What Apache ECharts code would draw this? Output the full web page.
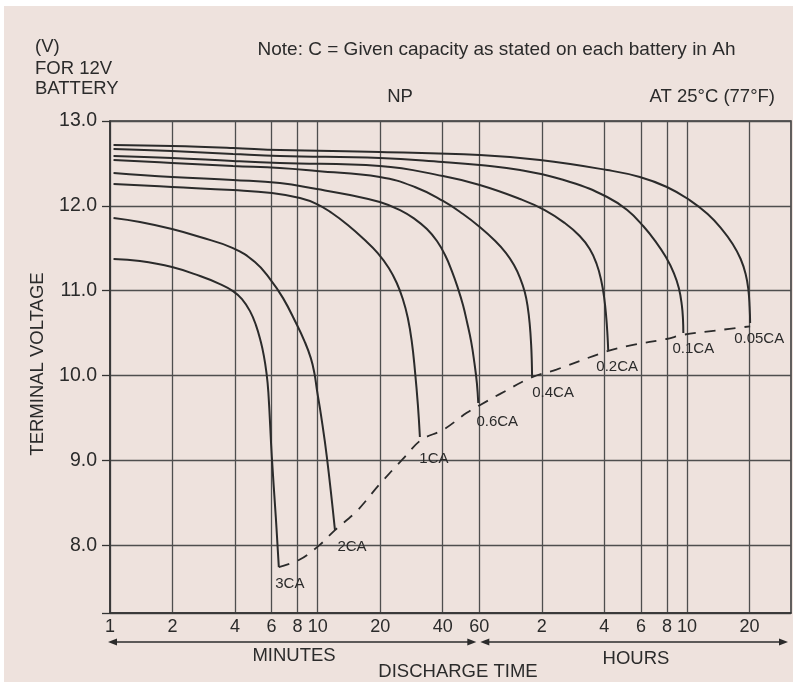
<!DOCTYPE html>
<html><head><meta charset="utf-8">
<script src="https://cdn.jsdelivr.net/npm/echarts@6/dist/echarts.min.js"></script>
<style>
html,body{margin:0;padding:0;background:#ffffff;}
#c{position:absolute;left:4px;top:6px;width:789px;height:676px;background:#eee2dd;}
</style></head><body><div id="c"></div>
<script>
// ---- axis ticks (x in minutes; values above 60 are hours * 60) ----
const xTickValues = [1, 2, 4, 6, 8, 10, 20, 40, 60, 120, 240, 360, 480, 600, 1200];
const yTickValues = [7.2, 8, 9, 10, 11, 12, 13];
const yLabelValues = [8, 9, 10, 11, 12, 13];

// ---- discharge curves: time (minutes) and terminal voltage (V) ----
const time3CA = [1.04, 1.394, 1.988, 2.713, 3.386, 3.908, 4.32, 4.721, 5.042, 5.326, 5.508, 5.661, 5.786, 6.014, 6.285, 6.499];
const volt3CA = [11.373, 11.349, 11.278, 11.172, 11.078, 10.995, 10.901, 10.759, 10.594, 10.394, 10.229, 10.04, 9.804, 9.038, 8.33, 7.741];

const time2CA = [1.04, 1.394, 1.988, 2.713, 3.908, 4.986, 5.898, 6.811, 7.864, 8.676, 9.266, 9.639, 9.917, 10.373, 11.07, 12.11];
const volt2CA = [11.856, 11.809, 11.726, 11.632, 11.502, 11.337, 11.137, 10.912, 10.618, 10.394, 10.205, 10.028, 9.828, 9.533, 9.038, 8.177];

const time1CA = [1.04, 1.988, 3.908, 6.014, 8.218, 9.917, 11.7, 13.96, 16.66, 19.46, 21.99, 24.02, 25.69, 27.16, 28.4, 29.37, 30.37, 31.05];
const volt1CA = [12.257, 12.222, 12.186, 12.151, 12.092, 12.021, 11.915, 11.774, 11.608, 11.443, 11.267, 11.09, 10.901, 10.677, 10.394, 10.064, 9.651, 9.274];

const time06CA = [1.04, 1.988, 3.908, 6.575, 9.917, 14.29, 19.91, 24.92, 29.37, 33.56, 37.51, 41.03, 44.26, 47.29, 50.06, 52.34, 54.86, 56.75, 58.4, 59.29];
const volt06CA = [12.387, 12.34, 12.304, 12.269, 12.198, 12.127, 12.045, 11.95, 11.844, 11.726, 11.585, 11.42, 11.231, 11.031, 10.83, 10.63, 10.394, 10.158, 9.91, 9.675];

const time04CA = [1.04, 1.988, 3.908, 6.575, 9.917, 19.91, 29.37, 40.1, 50.06, 60.3, 71.6, 80.7, 88.1, 94.3, 99.3, 102.6, 105.0, 106.6, 107.3, 107.7];
const volt04CA = [12.54, 12.505, 12.469, 12.446, 12.41, 12.34, 12.222, 12.057, 11.903, 11.75, 11.585, 11.443, 11.302, 11.149, 10.983, 10.807, 10.594, 10.358, 10.181, 9.981];

const time02CA = [1.04, 1.988, 3.908, 6.575, 19.91, 40.1, 60.3, 94.3, 123.9, 154.7, 182.6, 204.1, 220.3, 231.5, 239.6, 245.2, 248.4, 250.4];
const volt02CA = [12.587, 12.564, 12.528, 12.505, 12.469, 12.351, 12.245, 12.08, 11.95, 11.797, 11.644, 11.491, 11.314, 11.125, 10.913, 10.677, 10.476, 10.3];

const time01CA = [1.04, 1.988, 3.908, 6.575, 19.91, 40.1, 60.3, 94.3, 164.1, 247.5, 309.1, 369.0, 425.4, 474.6, 518.5, 547.9, 566.4, 574.0, 575.9];
const volt01CA = [12.67, 12.646, 12.611, 12.587, 12.564, 12.517, 12.481, 12.422, 12.281, 12.104, 11.95, 11.762, 11.573, 11.396, 11.208, 11.031, 10.83, 10.653, 10.5];

const time005CA = [1.04, 1.988, 3.908, 6.575, 19.91, 60.3, 117.6, 247.5, 355.6, 479.9, 617.7, 754.1, 881.9, 995.1, 1087.4, 1148.9, 1185, 1201, 1208];
const volt005CA = [12.717, 12.705, 12.682, 12.658, 12.634, 12.599, 12.54, 12.422, 12.34, 12.222, 12.068, 11.903, 11.726, 11.55, 11.373, 11.196, 11.007, 10.807, 10.618];

// ---- dashed final-voltage line ----
const timeCutoff = [6.499, 8.2, 10.2, 12.11, 15.4, 19.9, 25.8, 31.5, 40.2, 52.2, 60.3, 75.2, 107.7, 141, 250.4, 330, 477, 575.9, 829, 1208];
const voltCutoff = [7.741, 7.83, 8.0, 8.177, 8.4, 8.72, 9.02, 9.24, 9.36, 9.56, 9.65, 9.78, 9.98, 10.07, 10.29, 10.36, 10.43, 10.48, 10.53, 10.58];

const FONT = '"Liberation Sans", Arial, Helvetica, sans-serif';
const INK = '#2b2b2b';
const GRIDC = '#4e4e4e';

const curves = [
  {name: '3CA', t: time3CA, v: volt3CA, off: [11, 17]},
  {name: '2CA', t: time2CA, v: volt2CA, off: [17, 17]},
  {name: '1CA', t: time1CA, v: volt1CA, off: [14, 22]},
  {name: '0.6CA', t: time06CA, v: volt06CA, off: [19, 19]},
  {name: '0.4CA', t: time04CA, v: volt04CA, off: [21, 16]},
  {name: '0.2CA', t: time02CA, v: volt02CA, off: [9, 17]},
  {name: '0.1CA', t: time01CA, v: volt01CA, off: [10, 16]},
  {name: '0.05CA', t: time005CA, v: volt005CA, off: [9, 16]}
];

const series = curves.map(c => ({
  type: 'line', name: c.name,
  data: c.t.map((t, i) => [t, c.v[i]]),
  smooth: 0.45, showSymbol: false, symbol: 'none', silent: true, animation: false,
  lineStyle: {color: INK, width: 2},
  markPoint: {
    symbol: 'circle', symbolSize: 1, silent: true, animation: false,
    itemStyle: {color: 'rgba(0,0,0,0)'},
    label: {show: true, position: 'inside', offset: c.off, formatter: c.name,
            color: INK, fontSize: 15, fontFamily: FONT},
    data: [{coord: [c.t[c.t.length - 1], c.v[c.v.length - 1]]}]
  }
}));
series.push({
  type: 'line', name: 'cutoff',
  data: timeCutoff.map((t, i) => [t, voltCutoff[i]]),
  smooth: 0.35, showSymbol: false, symbol: 'none', silent: true, animation: false,
  lineStyle: {color: INK, width: 1.8, type: [11, 9]}
});

const txt = (x, y, s, align, size, extra) => Object.assign({
  type: 'text', x: x, y: y, silent: true,
  style: {text: s, fill: INK, font: (size || 18.5) + 'px ' + FONT, textVerticalAlign: 'middle', textAlign: align || 'left'}
}, extra || {});

const chart = echarts.init(document.getElementById('c'));
chart.setOption({
  animation: false,
  grid: {left: 106, right: 2, top: 115, bottom: 69, show: true, borderColor: '#333', borderWidth: 1.5, backgroundColor: 'transparent'},
  xAxis: {
    type: 'log', logBase: 10, min: 1, max: 1900,
    axisLine: {show: true, onZero: false, lineStyle: {color: '#333', width: 1.5}},
    axisTick: {show: false, customValues: xTickValues},
    axisLabel: {customValues: xTickValues, margin: 5, fontSize: 18, color: INK, fontFamily: FONT,
      formatter: v => { const r = Math.round(v); return r <= 60 ? String(r) : String(Math.round(r / 60)); }},
    splitLine: {show: true, lineStyle: {color: GRIDC, width: 1.3}},
    minorTick: {show: false}, minorSplitLine: {show: false}
  },
  yAxis: {
    type: 'value', min: 7.2, max: 13,
    axisLine: {show: true, lineStyle: {color: '#333', width: 1.5}},
    axisTick: {show: true, length: 8, customValues: yTickValues, lineStyle: {color: '#333', width: 1.3}},
    axisLabel: {customValues: yLabelValues, margin: 13, fontSize: 19.5, color: INK, fontFamily: FONT,
      formatter: v => Number(v).toFixed(1)},
    splitLine: {show: true, lineStyle: {color: GRIDC, width: 1.3}}
  },
  series: series
});

// texts and arrows under the axis (arrow ends placed from the axis scale)
const px = v => chart.convertToPixel({xAxisIndex: 0}, v);
const ay = 636;
const xa = px(1) - 2, xb = px(60) - 3, xc = px(60) + 1, xd = 784;
const head = (x, dir) => ({type: 'polygon', silent: true,
  shape: {points: [[x, ay], [x + dir * 9, ay - 3.5], [x + dir * 9, ay + 3.5]]}, style: {fill: INK}});
const seg = (x1, x2) => ({type: 'line', silent: true, shape: {x1: x1, y1: ay, x2: x2, y2: ay}, style: {stroke: INK, lineWidth: 1.5}});
chart.setOption({graphic: [
  txt(31, 40.5, '(V)'),
  txt(31, 62.5, 'FOR 12V'),
  txt(31, 82.5, 'BATTERY'),
  txt(492.5, 44, 'Note: C = Given capacity as stated on each battery in Ah', 'center', 19),
  txt(396, 91, 'NP', 'center'),
  txt(771, 91, 'AT 25\u00B0C (77\u00B0F)', 'right'),
  txt(34, 358, 'TERMINAL VOLTAGE', 'center', 18.5, {rotation: Math.PI / 2}),
  txt(290, 650, 'MINUTES', 'center'),
  txt(632, 653, 'HOURS', 'center'),
  txt(454, 666, 'DISCHARGE TIME', 'center'),
  seg(xa + 4, xb - 4), head(xa, 1), head(xb, -1),
  seg(xc + 4, xd - 4), head(xc, 1), head(xd, -1)
]});
</script></body></html>
